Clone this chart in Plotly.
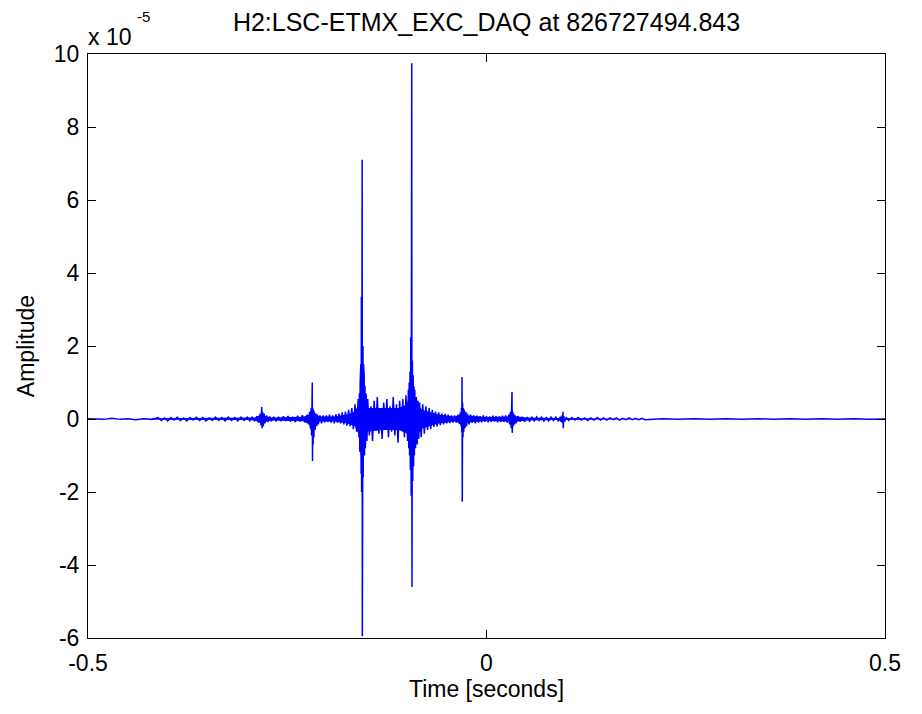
import plotly.graph_objects as go

# Samples: (time [s] relative to 826727494.843, amplitude [x 1e-5])
quiet_left = [
    (-0.500, 0.01), (-0.480, -0.01), (-0.470, 0.02), (-0.460, -0.01), (-0.450, 0.01),
    (-0.440, -0.02), (-0.430, 0.01), (-0.420, -0.01),
]
low_noise_left = [
    (-0.412, 0.04), (-0.408, -0.04), (-0.404, 0.03), (-0.400, -0.05), (-0.396, 0.04),
    (-0.392, -0.03), (-0.388, 0.05), (-0.384, -0.04), (-0.380, 0.03), (-0.376, -0.05),
    (-0.372, 0.04), (-0.368, -0.03), (-0.364, 0.05), (-0.360, -0.04), (-0.356, 0.04),
    (-0.352, -0.05), (-0.348, 0.03), (-0.344, -0.04), (-0.340, 0.05), (-0.336, -0.04),
    (-0.332, 0.04), (-0.328, -0.05), (-0.324, 0.05), (-0.320, -0.04), (-0.316, 0.04),
    (-0.312, -0.05), (-0.308, 0.05), (-0.304, -0.04), (-0.300, 0.05),
]
spike_a = [
    (-0.297, -0.05), (-0.294, 0.06), (-0.291, -0.06), (-0.288, 0.08), (-0.286, -0.10),
    (-0.284, 0.15), (-0.283, -0.18), (-0.282, 0.33), (-0.2815, -0.25), (-0.281, 0.20),
    (-0.280, -0.20), (-0.279, 0.15), (-0.278, -0.12), (-0.276, 0.10), (-0.274, -0.08),
    (-0.272, 0.07), (-0.270, -0.06), (-0.267, 0.06), (-0.264, -0.05), (-0.261, 0.06),
    (-0.258, -0.06), (-0.255, 0.07), (-0.252, -0.05), (-0.249, 0.08), (-0.246, -0.07),
    (-0.243, 0.06), (-0.240, -0.08), (-0.237, 0.09), (-0.234, -0.07), (-0.231, 0.10),
    (-0.228, -0.09), (-0.225, 0.12),
]
spike_b = [
    (-0.223, -0.15), (-0.222, 0.20), (-0.221, -0.25), (-0.220, 0.30), (-0.2195, -0.45),
    (-0.219, 0.50), (-0.2186, 1.00), (-0.2183, -1.15), (-0.218, 0.30), (-0.2175, -0.70),
    (-0.217, 0.25), (-0.2165, -0.50), (-0.216, 0.20), (-0.215, -0.30), (-0.214, 0.15),
    (-0.213, -0.20), (-0.212, 0.12), (-0.211, -0.15), (-0.209, 0.10), (-0.207, -0.12),
    (-0.205, 0.10), (-0.203, -0.09),
    (-0.201, 0.10), (-0.199, -0.08), (-0.197, 0.12), (-0.195, -0.10), (-0.193, 0.10),
    (-0.191, -0.12), (-0.189, 0.13), (-0.187, -0.10), (-0.185, 0.15), (-0.183, -0.12),
    (-0.181, 0.18), (-0.179, -0.15), (-0.177, 0.20), (-0.175, -0.18), (-0.173, 0.25),
    (-0.171, -0.20), (-0.169, 0.30), (-0.167, -0.28), (-0.165, 0.40), (-0.163, -0.35),
    (-0.161, 0.55), (-0.160, -0.50),
]
main_spike = [
    (-0.1595, 0.70), (-0.159, -0.90), (-0.1585, 1.00), (-0.158, -1.20), (-0.1577, 1.50),
    (-0.1573, -1.50), (-0.157, 3.35), (-0.1567, -2.00), (-0.1563, 2.80), (-0.156, 7.10),
    (-0.1558, -5.95), (-0.1555, 3.00), (-0.1552, -1.80), (-0.155, 2.00), (-0.1547, -1.60),
    (-0.1543, 1.50), (-0.154, -1.30), (-0.1535, 1.20), (-0.153, -1.00), (-0.1525, 0.90),
    (-0.152, -0.80), (-0.151, 0.70), (-0.150, -0.60),
]
burst = [
    (-0.149, 0.55), (-0.147, -0.45), (-0.145, 0.35), (-0.143, -0.60), (-0.141, 0.50),
    (-0.139, -0.30), (-0.137, 0.60), (-0.135, -0.40), (-0.133, 0.30), (-0.131, -0.55),
    (-0.129, 0.45), (-0.127, -0.25), (-0.125, 0.55), (-0.123, -0.50), (-0.121, 0.35),
    (-0.119, -0.35), (-0.117, 0.60), (-0.115, -0.45), (-0.113, 0.40), (-0.111, -0.65),
    (-0.109, 0.50), (-0.107, -0.30), (-0.105, 0.55), (-0.103, -0.50), (-0.101, 0.65),
    (-0.099, -0.60), (-0.098, 0.80),
]
second_spike = [
    (-0.0975, -0.80), (-0.097, 1.00), (-0.0965, -1.00), (-0.096, 1.30), (-0.0955, -1.40),
    (-0.095, 2.25), (-0.0945, -2.10), (-0.094, 1.80), (-0.0938, 9.75), (-0.0935, -4.60),
    (-0.093, 1.60), (-0.0925, -1.70), (-0.092, 1.20), (-0.0915, -1.30), (-0.091, 0.90),
    (-0.0905, -1.00), (-0.090, 0.80), (-0.089, -0.80), (-0.088, 0.60), (-0.087, -0.70),
    (-0.086, 0.50), (-0.085, -0.55),
]
decay = [
    (-0.084, 0.45), (-0.082, -0.50), (-0.080, 0.40), (-0.078, -0.40), (-0.076, 0.35),
    (-0.074, -0.30), (-0.072, 0.30), (-0.070, -0.28), (-0.068, 0.25), (-0.066, -0.22),
    (-0.064, 0.20), (-0.062, -0.20), (-0.060, 0.18), (-0.058, -0.17), (-0.056, 0.15),
    (-0.054, -0.15), (-0.052, 0.14), (-0.050, -0.12), (-0.048, 0.12), (-0.046, -0.11),
    (-0.044, 0.10), (-0.042, -0.10), (-0.040, 0.10), (-0.038, -0.10), (-0.036, 0.12),
    (-0.034, -0.13), (-0.033, 0.18), (-0.032, -0.20),
]
spike_c = [
    (-0.0315, 0.30), (-0.031, -0.35), (-0.0307, 1.15), (-0.0304, -2.27), (-0.030, 0.45),
    (-0.0295, -0.50), (-0.029, 0.30), (-0.0285, -0.35), (-0.028, 0.25), (-0.027, -0.25),
    (-0.026, 0.20), (-0.025, -0.20), (-0.024, 0.15), (-0.022, -0.15),
    (-0.020, 0.12), (-0.018, -0.10), (-0.016, 0.10), (-0.014, -0.12), (-0.012, 0.09),
    (-0.010, -0.10), (-0.008, 0.08), (-0.006, -0.09), (-0.004, 0.10), (-0.002, -0.08),
    (0.000, 0.08), (0.002, -0.09), (0.004, 0.07), (0.006, -0.08), (0.008, 0.09),
    (0.010, -0.07), (0.012, 0.08), (0.014, -0.09), (0.016, 0.07), (0.018, -0.08),
    (0.020, 0.09), (0.022, -0.08), (0.024, 0.10), (0.026, -0.10), (0.028, 0.12),
]
spike_d = [
    (0.029, -0.15), (0.030, 0.20), (0.031, -0.25), (0.0315, 0.30), (0.032, 0.74),
    (0.0323, -0.38), (0.033, 0.20), (0.0335, -0.20), (0.034, 0.15), (0.035, -0.15),
    (0.036, 0.10), (0.037, -0.12),
    (0.039, 0.08), (0.042, -0.07), (0.045, 0.06), (0.048, -0.07), (0.051, 0.05),
    (0.054, -0.06), (0.057, 0.05), (0.060, -0.05), (0.063, 0.06), (0.066, -0.04),
    (0.069, 0.05), (0.072, -0.05), (0.075, 0.04), (0.078, -0.05), (0.081, 0.05),
    (0.084, -0.04), (0.087, 0.05), (0.090, -0.05), (0.093, 0.06),
    (0.094, -0.08), (0.095, 0.10), (0.0955, -0.12), (0.096, 0.20), (0.0963, -0.25),
    (0.097, 0.08), (0.098, -0.07), (0.100, 0.05),
]
low_noise_right = [
    (0.103, -0.04), (0.107, 0.04), (0.111, -0.03), (0.115, 0.04), (0.119, -0.03),
    (0.123, 0.03), (0.127, -0.04), (0.131, 0.03), (0.135, -0.03), (0.139, 0.04),
    (0.143, -0.03), (0.147, 0.03), (0.151, -0.03), (0.155, 0.03), (0.159, -0.02),
    (0.163, 0.03), (0.167, -0.03), (0.171, 0.02), (0.175, -0.02), (0.179, 0.03),
    (0.183, -0.02), (0.187, 0.02), (0.191, -0.02), (0.195, 0.02), (0.199, -0.02),
]
quiet_right = [
    (0.22, 0.01), (0.24, -0.01), (0.26, 0.01), (0.28, -0.01), (0.30, 0.01),
    (0.32, -0.01), (0.34, 0.01), (0.36, -0.01), (0.38, 0.01), (0.40, -0.01),
    (0.42, 0.01), (0.44, -0.01), (0.46, 0.01), (0.48, -0.01), (0.50, 0.00),
]

# dense oscillation core: time, upper, lower
core_t = [-0.420, -0.300, -0.290, -0.283, -0.281, -0.270, -0.230, -0.222, -0.219, -0.216,
          -0.210, -0.190, -0.175, -0.165, -0.160, -0.157, -0.155, -0.150, -0.130, -0.110,
          -0.100, -0.096, -0.094, -0.092, -0.088, -0.080, -0.060, -0.040, -0.032, -0.030,
          -0.025, 0.000, 0.028, 0.031, 0.034, 0.050, 0.090, 0.095, 0.097, 0.120, 0.200]
core_hi = [0.02, 0.03, 0.04, 0.12, 0.10, 0.04, 0.06, 0.12, 0.30, 0.12,
           0.07, 0.07, 0.12, 0.20, 0.45, 1.20, 0.80, 0.30, 0.30, 0.30,
           0.40, 0.80, 1.00, 0.70, 0.40, 0.25, 0.12, 0.07, 0.12, 0.25,
           0.10, 0.05, 0.07, 0.15, 0.08, 0.04, 0.03, 0.08, 0.03, 0.02, 0.01]
core_lo = [-0.02, -0.03, -0.04, -0.12, -0.10, -0.04, -0.06, -0.15, -0.45, -0.15,
           -0.07, -0.07, -0.12, -0.20, -0.45, -1.20, -0.90, -0.35, -0.30, -0.30,
           -0.40, -0.90, -1.20, -0.80, -0.45, -0.25, -0.12, -0.07, -0.12, -0.35,
           -0.10, -0.05, -0.07, -0.15, -0.08, -0.04, -0.03, -0.10, -0.03, -0.02, -0.01]

segments = [quiet_left, low_noise_left, spike_a, spike_b, main_spike, burst,
            second_spike, decay, spike_c, spike_d, low_noise_right, quiet_right]
time_s = [t for seg in segments for t, _ in seg]
amplitude_e5 = [v for seg in segments for _, v in seg]

x_ticks = [-0.5, 0, 0.5]
x_tick_labels = ["-0.5", "0", "0.5"]
y_ticks = [-6, -4, -2, 0, 2, 4, 6, 8, 10]
y_tick_labels = ["-6", "-4", "-2", "0", "2", "4", "6", "8", "10"]

FONT = "Liberation Sans, Arial, Helvetica, sans-serif"
TICK_SIZE = 23
BLUE = "#0000FF"

fig = go.Figure()
fig.add_trace(go.Scatter(
    x=core_t + core_t[::-1], y=core_hi + core_lo[::-1],
    mode="lines", fill="toself", fillcolor=BLUE, line=dict(width=0, color=BLUE),
    showlegend=False, hoverinfo="skip",
))
fig.add_trace(go.Scatter(
    x=time_s, y=amplitude_e5, mode="lines",
    line=dict(color=BLUE, width=1.5),
    showlegend=False, hoverinfo="skip",
))

axis_common = dict(
    showline=True, linecolor="black", linewidth=1, mirror="ticks",
    ticks="inside", ticklen=8, tickcolor="black", tickwidth=1,
    showgrid=False, zeroline=False,
    tickfont=dict(family=FONT, size=TICK_SIZE, color="black"),
)

# page body has an 8px margin, so the figure is sized/offset to compensate
fig.update_layout(
    width=914, height=706,
    margin=dict(l=80, r=37, t=46, b=76),
    paper_bgcolor="white", plot_bgcolor="white",
    font=dict(family=FONT, size=TICK_SIZE, color="black"),
    title=dict(text="H2:LSC-ETMX_EXC_DAQ at 826727494.843",
               x=(80 + 877) / 2 / 914, xanchor="center",
               y=1 - 14 / 706, yanchor="middle",
               font=dict(family=FONT, size=25, color="black")),
    xaxis=dict(range=[-0.5, 0.5], tickvals=x_ticks, ticktext=x_tick_labels,
               ticklabelstandoff=4,
               title=dict(text="Time [seconds]", standoff=4,
                          font=dict(family=FONT, size=TICK_SIZE)),
               **axis_common),
    yaxis=dict(range=[-6, 10], tickvals=y_ticks, ticktext=y_tick_labels,
               ticklabelstandoff=3,
               title=dict(text="Amplitude", standoff=12,
                          font=dict(family=FONT, size=TICK_SIZE)),
               **axis_common),
    annotations=[
        dict(text="x 10", xref="paper", yref="paper", x=0, y=1, xanchor="left",
             yanchor="middle", showarrow=False, yshift=17, xshift=-2,
             font=dict(family=FONT, size=TICK_SIZE, color="black")),
        dict(text="-5", xref="paper", yref="paper", x=0, y=1, xanchor="left",
             yanchor="middle", showarrow=False, xshift=47, yshift=38,
             font=dict(family=FONT, size=15, color="black")),
    ],
)

fig.write_html("out.html")
